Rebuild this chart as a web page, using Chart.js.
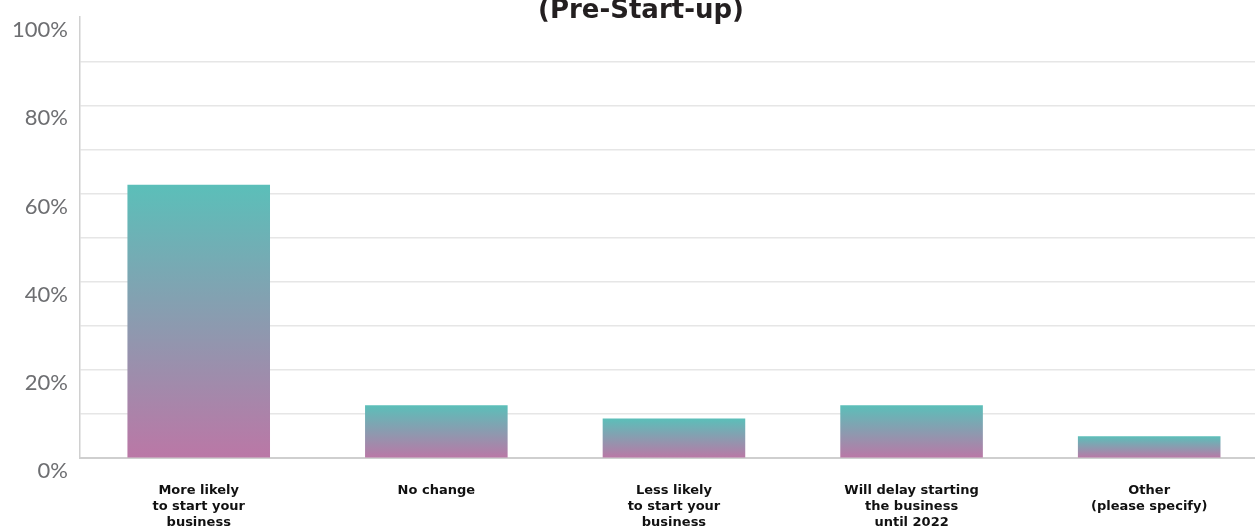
<!DOCTYPE html>
<html>
<head>
<meta charset="utf-8">
<script src="https://cdn.jsdelivr.net/npm/chart.js@4"></script>
<style>
html,body{margin:0;padding:0;background:#fff;overflow:hidden;width:1255px;height:526px;}
#wrap{position:absolute;left:0;top:-8px;width:1268px;height:555px;}
#title{position:absolute;left:441px;width:400px;top:-4px;text-align:center;font-family:'DejaVu Sans',sans-serif;font-weight:bold;font-size:26px;line-height:26px;color:#231f20;white-space:nowrap;z-index:2;}
</style>
</head>
<body>
<div id="wrap"><canvas id="c" width="1268" height="555"></canvas></div>
<div id="title"></div>
<script>
const titleText = '(Pre-Start-up)';
const categories = [
  ['More likely', 'to start your', 'business'],
  ['No change'],
  ['Less likely', 'to start your', 'business'],
  ['Will delay starting', 'the business', 'until 2022'],
  ['Other', '(please specify)']
];
const values = [62, 12, 9, 12, 5];
const yTickLabels = {0: '0%', 20: '20%', 40: '40%', 60: '60%', 80: '80%', 100: '100%'};

document.getElementById('title').textContent = titleText;

function barGradient(ctx) {
  const chart = ctx.chart;
  const area = chart.chartArea;
  if (!area || ctx.type !== 'data') return '#5bbfb9';
  const y = chart.scales.y;
  const top = y.getPixelForValue(ctx.parsed.y);
  const bottom = y.getPixelForValue(0);
  const g = chart.ctx.createLinearGradient(0, top, 0, bottom);
  g.addColorStop(0, '#5bbfb9');
  g.addColorStop(1, '#bb77a6');
  return g;
}

new Chart(document.getElementById('c'), {
  type: 'bar',
  data: {
    labels: categories,
    datasets: [{
      data: values,
      backgroundColor: barGradient,
      borderWidth: 0,
      barPercentage: 0.75,
      categoryPercentage: 0.8
    }]
  },
  options: {
    responsive: false,
    animation: false,
    layout: {padding: {top: 2, left: 0, right: 0, bottom: 0}},
    plugins: {
      legend: {display: false},
      tooltip: {enabled: false},
      title: {display: false}
    },
    scales: {
      x: {
        grid: {display: false},
        border: {color: '#cfcfcf', width: 2},
        ticks: {
          color: '#111',
          autoSkip: false,
          maxRotation: 0,
          padding: 17,
          font: {family: 'DejaVu Sans', size: 13, weight: 'bold', lineHeight: 1.2}
        }
      },
      y: {
        min: 0,
        max: 100,
        grid: {
          drawTicks: false,
          color: (c) => (c.tick && c.tick.value === 100) ? 'rgba(0,0,0,0)' : '#e6e6e6',
          lineWidth: 1.5
        },
        border: {color: '#d0d0d0', width: 1.5},
        ticks: {
          stepSize: 10,
          padding: 12,
          labelOffset: 13,
          color: '#6d6e71',
          font: {family: 'Lato', size: 22},
          callback: (v) => (yTickLabels[v] !== undefined ? yTickLabels[v] : '')
        }
      }
    }
  }
});
</script>
</body>
</html>
